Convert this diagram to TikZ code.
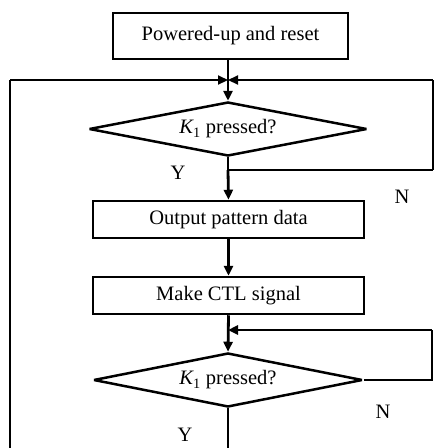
\documentclass[tikz,border=0pt]{standalone}
\usepackage{fontspec}
\setmainfont{Liberation Serif}
\usetikzlibrary{shapes.geometric,arrows.meta}
\begin{document}
\begin{tikzpicture}[x=1pt,y=-1pt,
  every node/.style={font=\fontsize{20.5}{22}\selectfont},
  procbox/.style={draw,line width=2.5pt,rectangle,inner sep=0pt},
  decis/.style={draw,line width=2.5pt,diamond,inner sep=0pt,aspect=5.1,miter limit=1.5},
  conn/.style={line width=2.2pt},
  arr/.style={line width=2.8pt,-{Triangle[length=10pt,width=9pt]}},
  lbl/.style={inner sep=0pt}]
\useasboundingbox (0,0) rectangle (434,448);
\node[procbox,minimum width=235pt,minimum height=46pt] (b1) at (230.5,36) {Powered-up and reset};
\coordinate (m1) at (228,80);
\node[decis,minimum width=278pt,minimum height=54pt] (d1) at (228,129) {{\itshape K}\textsubscript{1} pressed?};
\coordinate (c1) at (228,170);
\node[procbox,minimum width=271pt,minimum height=37pt] (b2) at (228.5,219.5) {Output pattern data};
\node[procbox,minimum width=271pt,minimum height=37pt] (b3) at (228.5,295.5) {Make CTL signal};
\coordinate (m2) at (228,330);
\node[decis,minimum width=269pt,minimum height=54pt] (d2) at (228,380) {{\itshape K}\textsubscript{1} pressed?};
\coordinate (bot) at (228,450);
\coordinate (lb) at (10,450);
\coordinate (lt) at (10,80);
\coordinate (rt1) at (433,80);
\coordinate (rt2) at (433,170);
\coordinate (rl1) at (432,330);
\coordinate (rl2) at (432,380);
\node[lbl] (y1) at (178,173) {Y};
\node[lbl] (n1) at (402,197) {N};
\node[lbl] (n2) at (383,412) {N};
\node[lbl] (y2) at (185,435) {Y};
% connectors
\draw[arr] (m1 |- b1.south) -- (d1.north);
\draw[conn] (d1.south) -- (c1);
\draw[arr] (c1) -- (b2.north);
\draw[conn] (c1) -- (rt2);
\draw[line width=1.2pt] (rt2) -- (rt1);
\draw[arr,line width=2.2pt] (rt1) -- (m1);
\draw[conn,line width=2.8pt] (lb) -- (lt);
\draw[arr,line width=2.2pt] (lt) -- (m1);
\draw[arr] (b2.south) -- (b3.north);
\draw[arr] (b3.south) -- (d2.north);
\draw[conn,line width=2.5pt] (d2.east) -- (rl2) -- (rl1);
\draw[arr,line width=2.5pt] (rl1) -- (m2);
\draw[conn] (d2.south) -- (bot);
\end{tikzpicture}
\end{document}
